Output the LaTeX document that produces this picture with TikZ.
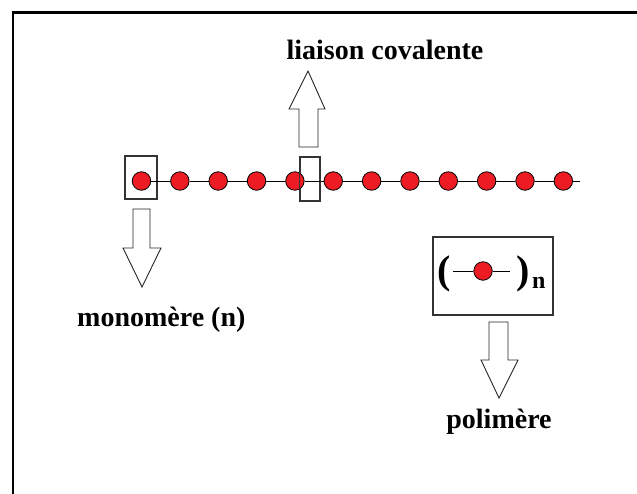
\documentclass[tikz,border=0pt]{standalone}
\usepackage{fontspec}
\setmainfont{Liberation Serif}
\begin{document}
\begin{tikzpicture}[x=1pt,y=-1pt,
  atom/.style={circle,draw=black,line width=0.8pt,fill=atomred,minimum size=18.5pt,inner sep=0pt},
  bond/.style={draw=black,line width=1pt},
  frame/.style={draw=black!80,line width=1.1pt},
  blockarrow/.style={draw=black!85,line width=0.9pt,fill=white,line join=miter},
  lbl/.style={font=\fontsize{28}{30}\selectfont\bfseries,inner sep=0pt}
]
\definecolor{atomred}{HTML}{ED1C24}
\useasboundingbox (0,0) rectangle (637,493);
% outer frame
\draw[line width=2.2pt,line cap=rect] (13,493) -- (13,12.5) -- (637,12.5);
% selection boxes (behind)
\node[frame,minimum width=32pt,minimum height=43pt,inner sep=0pt] (mbox) at (141,177.5) {};
\node[frame,minimum width=20pt,minimum height=44pt,inner sep=0pt] (bbox) at (310,179) {};
% chain
\foreach \i in {1,...,12}{
  \pgfmathsetmacro{\xx}{141.5+38.35*(\i-1)}
  \node[atom] (a\i) at (\xx,181) {};
}
\coordinate (cend) at (580,181);
\foreach \i [evaluate=\i as \j using int(\i+1)] in {1,...,11}{
  \draw[bond] (a\i) -- (a\j);
}
\draw[bond] (a12) -- (cend);
% redraw bond box edge over chain
\draw[frame] (bbox.north west) rectangle (bbox.south east);
% arrows
\draw[blockarrow] (133,209) -- (150,209) -- (150,248) -- (161,248) -- (142,287) -- (123,248) -- (133,248) -- cycle;
\draw[blockarrow] (299,147) -- (318,147) -- (318,109) -- (325,109) -- (308,71) -- (289,109) -- (299,109) -- cycle;
\draw[blockarrow] (489,322) -- (508,322) -- (508,360) -- (518,360) -- (499,398) -- (481,360) -- (489,360) -- cycle;
% labels
\node[lbl,anchor=base] (lc) at (385,59) {liaison covalente};
\node[lbl,anchor=base west] (mono) at (77,326) {monomère (n)};
\node[lbl,anchor=base] (poly) at (499,428) {polimère};
% polymer box
\node[frame,minimum width=120pt,minimum height=78pt,inner sep=0pt] (pbox) at (493,276) {};
\node[font=\fontsize{40}{42}\selectfont\bfseries,inner sep=0pt,anchor=base] (lp) at (444,283) {(};
\node[font=\fontsize{40}{42}\selectfont\bfseries,inner sep=0pt,anchor=base] (rp) at (523,283) {)};
\node[font=\fontsize{24}{26}\selectfont\bfseries,inner sep=0pt,anchor=base west] (sn) at (532,288) {n};
\node[atom] (pa) at (483,271) {};
\coordinate (pl) at (453,271);
\coordinate (pr) at (510,271);
\draw[bond] (pl) -- (pa);
\draw[bond] (pa) -- (pr);
\end{tikzpicture}
\end{document}
